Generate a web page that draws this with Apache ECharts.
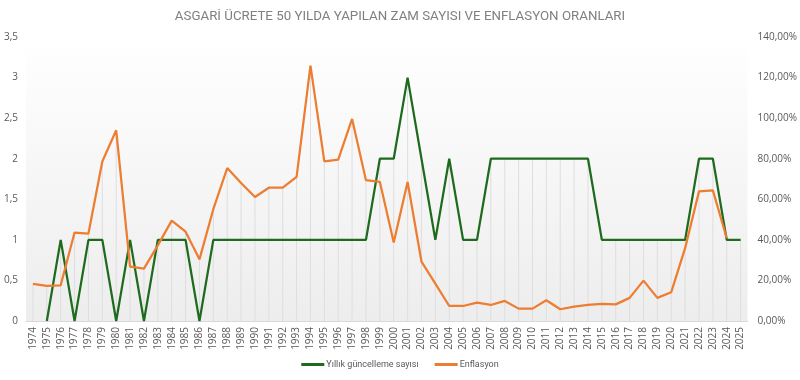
<!DOCTYPE html>
<html>
<head>
<meta charset="utf-8">
<script src="https://cdn.jsdelivr.net/npm/echarts@6/dist/echarts.min.js"></script>
<style>html,body{margin:0;padding:0;background:#fff;}#c{width:800px;height:380px;}</style>
</head>
<body>
<div id="c"></div>
<script>
const years = ["1974","1975","1976","1977","1978","1979","1980","1981","1982","1983","1984","1985","1986","1987","1988","1989","1990","1991","1992","1993","1994","1995","1996","1997","1998","1999","2000","2001","2002","2003","2004","2005","2006","2007","2008","2009","2010","2011","2012","2013","2014","2015","2016","2017","2018","2019","2020","2021","2022","2023","2024","2025"];
const updates = [null,0,1,0,1,1,0,1,0,1,1,1,0,1,1,1,1,1,1,1,1,1,1,1,1,2,2,3,2,1,2,1,1,2,2,2,2,2,2,2,2,1,1,1,1,1,1,1,2,2,1,1];
const inflation = [18.3,17.3,17.6,43.6,43.1,78.6,94.0,26.8,25.8,37.3,49.5,44.0,30.4,55.1,75.4,68.0,61.1,65.7,65.7,71.1,125.9,78.7,79.5,99.6,69.4,68.6,38.7,68.5,29.3,18.4,7.4,7.4,9.1,7.9,9.9,6.1,6.1,10.2,5.8,7.1,7.9,8.4,8.2,11.4,19.9,11.4,14.2,35.9,63.9,64.4,40.8,null];
const leftTicks = {min:0, max:3.5, interval:0.5};
const rightTicks = {min:0, max:140, interval:20};

// drop lines: from the highest point of either series (in left-axis units) down to the axis
const dropLines = years.map((y,i)=>{
  const a = updates[i]==null ? -Infinity : updates[i];
  const b = inflation[i]==null ? -Infinity : inflation[i]*leftTicks.max/rightTicks.max;
  const m = Math.max(a,b);
  return isFinite(m) ? m : null;
});

const chart = echarts.init(document.getElementById('c'));
const txt = '#595959';
chart.setOption({
  animation:false,
  backgroundColor:'#ffffff',
  title:{text:'ASGARİ ÜCRETE 50 YILDA YAPILAN ZAM SAYISI VE ENFLASYON ORANLARI',left:'center',top:5,
    textStyle:{fontFamily:'Roboto',fontSize:13.3,fontWeight:'normal',color:'#808080'}},
  grid:{left:26,right:49,top:37,bottom:59,show:true,borderWidth:0,
    backgroundColor:new echarts.graphic.LinearGradient(0,0,0,1,[{offset:0,color:'#ffffff'},{offset:1,color:'#ededed'}])},
  legend:{bottom:6,left:'center',itemWidth:23,itemHeight:3,itemGap:16,icon:'rect',
    data:['Yıllık güncelleme sayısı','Enflasyon'],
    textStyle:{fontFamily:'Roboto',fontSize:9,color:txt,padding:[0,0,0,-3]}},
  xAxis:{type:'category',data:years,boundaryGap:true,
    axisLine:{lineStyle:{color:'#d9d9d9'}},axisTick:{show:false},
    axisLabel:{rotate:90,interval:0,fontFamily:'Open Sans',fontSize:10,color:txt,margin:6}},
  yAxis:[
    {type:'value',min:leftTicks.min,max:leftTicks.max,interval:leftTicks.interval,splitLine:{show:false},
     axisLine:{show:false},axisTick:{show:false},
     axisLabel:{fontFamily:'Open Sans',fontSize:10,color:txt,margin:8,formatter:v=>String(v).replace('.',',')}},
    {type:'value',min:rightTicks.min,max:rightTicks.max,interval:rightTicks.interval,splitLine:{show:false},
     axisLine:{show:false},axisTick:{show:false},
     axisLabel:{fontFamily:'Open Sans',fontSize:10,color:txt,margin:10,formatter:v=>v.toFixed(2).replace('.',',')+'%'}}
  ],
  series:[
    {name:'drop',type:'bar',yAxisIndex:0,data:dropLines,barWidth:1,silent:true,z:1,
     itemStyle:{color:'#dedede'}},
    {name:'Yıllık güncelleme sayısı',type:'line',yAxisIndex:0,data:updates,symbol:'none',z:3,
     lineStyle:{width:2.25,color:'#1e6b1e'},itemStyle:{color:'#1e6b1e'}},
    {name:'Enflasyon',type:'line',yAxisIndex:1,data:inflation,symbol:'none',z:4,
     lineStyle:{width:2.25,color:'#ed7d31'},itemStyle:{color:'#ed7d31'}}
  ]
});
</script>
</body>
</html>
